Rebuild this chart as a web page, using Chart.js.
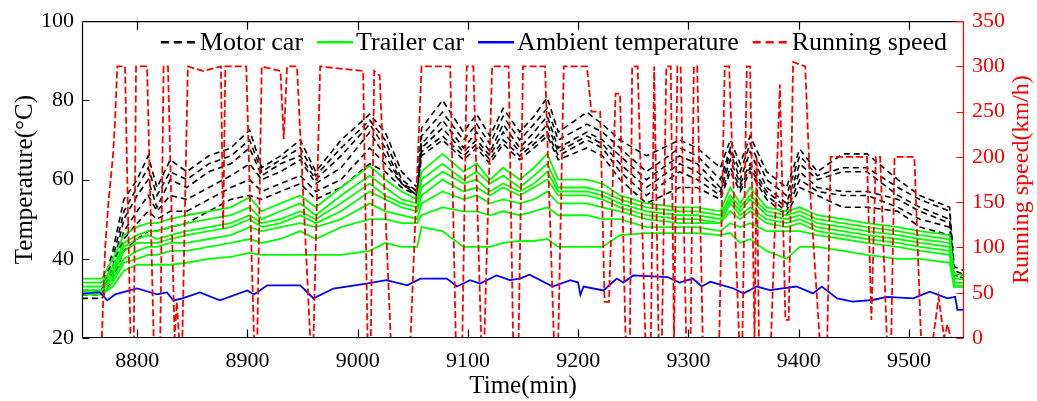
<!DOCTYPE html>
<html>
<head>
<meta charset="utf-8">
<script src="https://cdn.jsdelivr.net/npm/chart.js@4.4.1/dist/chart.umd.min.js"></script>
<style>
  html, body { margin: 0; padding: 0; background: #fff; }
</style>
</head>
<body>
<canvas id="chart" width="1037" height="401"></canvas>
<script>
// time grid shared by the carriage temperature traces (min)
const tempTime = [8750,8768,8778,8788,8800,8810,8818,8830,8845,8865,8885,8902,8913,8930,8948,8962,8985,9011,9025,9040,9054,9058,9077,9096,9108,9120,9132,9147,9160,9172,9182,9208,9222,9238,9262,9292,9308,9329,9338,9347,9356,9371,9389,9401,9417,9440,9462,9490,9510,9537,9541,9550];

// motor car temperatures (oC)
const motor1 = [32,32,42,55,60,66,58,65,62,66, 68,72.5,63,66,70,62,70,76.5,72,62, 58,73,80,72,76.5,71,78,72,76,80.7, 72,77,74,70,66,70,68,63,70,64, 71,62,58,67.7,62,66.5,66.5,60,56,53, 38,37];
const motor2 = [32,32,40,52,58,63,56,62,60,64, 66,70,62,65,68,61,68,75,70,60, 57,71,77,70,74,69,76,70,74,78, 70,74,72,68,62,68,66,60,68,62, 69,60,56,66,61,63,63,58,55,52, 37,36];
const motor3 = [31,31,38,50,56,60,53,60,58,62, 64,68,61,64,66,60,66,74,68,59, 56,69,75,68,72,67,74,68,72,76, 68,72,70,66,60,66,64,58,67,60, 67,58,54,64,60,62,62,56,53,50, 36,36];
const motor4 = [31,31,37,47,52,56,52,56,55,58, 61,64,60,62,65,59,63,72,66,59, 57,68,73,67,70,66,72,67,70,74, 67,71,69,64,58,64,62,57,65,59, 64,57,53,62,58,57,57,55,52,49, 36,35];
const motor5 = [31,31,36,45,49,52,50,52,52,55, 58,60,57,59,61,57,60,68,64,59, 56,67,71,66,69,65,70,66,69,72, 66,70,68,62,56,62,60,56,63,58, 63,56,52,60,57,56,56,53,50,48, 36,35];
const motor6 = [30,30,35,42,45,47,47,48,49,52, 55,56,55,57,59,55,58,64,62,58, 56,66,70,65,68,64,69,65,68,71, 65,68,66,60,54,58,58,55,62,57, 62,55,51,58,56,53,53,52,48,46, 35,35];

// trailer car temperatures (oC)
const trailer1 = [35,35,40,46,48,49,49,50,51,52, 53,55.5,52,54,56,53,58,63.5,60,57, 55,62,66.5,62,64,60,63,60,63,66.5, 60,60,59,56,54,53,53,52,58,54, 58,53,52,53,51,50,49,48,47,46, 36,36];
const trailer2 = [34,34,38,44,46,47,47,48,49,50, 51,53,50,52,54,51,56,61,58,55, 54,60,64,60,62,59,61,58,61,64, 58,58,57,55,53,52,52,51,56,53, 56,52,51,52,50,49,48,47,46,45, 35,35];
const trailer3 = [33,33,37,43,45,46,45,46,47,48, 49,51,49,50,52,50,54,59,56,54, 53,58,62,59,60,57,59,57,59,62, 57,57,56,54,52,51,51,50,55,52, 55,51,50,51,49,48,47,46,45,44, 34,34];
const trailer4 = [32,32,36,42,44,44,44,45,46,47, 48,50,48,49,51,49,52,57,55,53, 52,56,60,57,58,56,58,56,58,60, 56,56,55,53,51,50,50,49,54,51, 53,50,49,50,48,47,46,45,44,43, 34,34];
const trailer5 = [32,32,35,40,42,43,43,44,44,45, 46,48,47,48,49,48,50,54,52,51, 50,54,57,55,56,54,55,54,55,57, 54,54,53,52,50,49,49,49,52,50, 52,49,48,49,47,46,45,44,43,42, 33,33];
const trailer6 = [31,31,34,39,40,41,41,42,42,43, 44,45,44,45,47,45,48,50,50,49, 49,51,53,52,52,51,52,51,52,53, 51,51,50,50,48,48,48,47,49,48, 49,47,47,47,46,45,44,43,42,41, 33,33];
const trailer7 = [31,31,33,37,38.5,38.5,38.5,38.5,39,40, 40.5,41.5,41,41,41,41,41,42,44,43, 43,48,47,43,43,43,44,44.5,44.5,45, 43,43,43,46,46.5,46.5,46.5,46,46.5,44, 45,42,40,43,43,42,41,40,40,39, 33,33];

// ambient temperature (oC)
const ambientTime = [8750,8766,8773,8780,8800,8818,8827,8833,8841,8857,8875,8900,8906,8918,8948,8960,8978,9008,9026,9045,9057,9081,9090,9102,9111,9126,9138,9147,9156,9177,9193,9200,9202,9205,9223,9235,9241,9250,9281,9292,9304,9312,9320,9341,9350,9362,9374,9398,9413,9421,9435,9449,9467,9480,9504,9519,9535,9542,9544,9550];
const ambientTemp = [31.2,31.6,29.5,31,32.5,31,31.5,29.5,30,31.5,29.5,32,31,33.3,33.3,30,32.5,33.75,34.6,33.3,35,35,33,34.6,33.75,35.8,34.6,35,36,33,34.6,34,30.9,33,32,35,34,35.8,35.4,34,35,33,34.2,32.5,31.25,33,32.1,33,31.25,33,30,29.2,29.6,30.4,30,31.7,30,30.4,27.1,27.1];

// running speed (km/h)
const speedTime = [8750,8768,8771,8774,8778,8780,8782,8789,8794,8797,8799,8809,8815,8821,8824,8828,8834,8836,8838,8841,8846,8860,8876,8878,8880,8899,8906,8909,8913,8930,8933,8936,8945,8951,8957,8960,8966,9005,9009,9012,9015,9020,9030,9048,9058,9084,9089,9095,9099,9105,9112,9115,9122,9137,9141,9146,9150,9170,9178,9182,9187,9208,9212,9220,9224,9228,9234,9238,9243,9247,9249,9254,9261,9266,9269,9273,9276,9280,9284,9287,9290,9293,9298,9302,9305,9308,9313,9328,9333,9337,9346,9349,9353,9356,9360,9362,9364,9375,9383,9388,9391,9395,9406,9411,9419,9426,9429,9462,9466,9470,9474,9480,9484,9487,9505,9511,9522,9527,9532,9535,9538,9550];
const speedKmh = [0,0,100,150,200,240,300,300,0,0,300,300,0,0,300,300,0,40,0,0,300,295,300,120,300,300,0,0,300,295,220,300,300,150,0,0,300,295,0,0,295,290,0,0,300,300,0,0,300,300,0,0,300,300,0,0,300,300,0,0,300,300,250,250,40,40,270,270,0,0,300,300,0,0,300,0,0,300,300,0,300,300,0,0,300,300,0,0,300,300,0,0,300,300,0,200,0,0,280,20,20,305,300,150,0,0,200,200,20,200,200,0,0,200,200,0,0,45,0,15,0,0];

const xTicks = [8800,8900,9000,9100,9200,9300,9400,9500];

const serif = "'Liberation Serif', 'Times New Roman', serif";
Chart.defaults.font.family = serif;
Chart.defaults.color = '#000';

function pts(xs, ys) {
  return xs.map((x, i) => ({ x: x, y: ys[i] }));
}

let datasets = [];

[motor1, motor2, motor3, motor4, motor5, motor6].forEach((s, i) => {
  datasets.push({
    label: 'Motor car', data: pts(tempTime, s), inLegend: i === 0,
    borderColor: '#000', borderWidth: 1.6, borderDash: [6, 4],
    yAxisID: 'y', order: 4
  });
});
[trailer1, trailer2, trailer3, trailer4, trailer5, trailer6, trailer7].forEach((s, i) => {
  datasets.push({
    label: 'Trailer car', data: pts(tempTime, s), inLegend: i === 0,
    borderColor: '#00ff00', borderWidth: 1.8,
    yAxisID: 'y', order: 3
  });
});
datasets.push({
  label: 'Ambient temperature', data: pts(ambientTime, ambientTemp), inLegend: true,
  borderColor: '#0000ff', borderWidth: 1.8,
  yAxisID: 'y', order: 2
});
datasets.push({
  label: 'Running speed', data: pts(speedTime, speedKmh), inLegend: true,
  borderColor: '#ff0000', borderWidth: 1.8, borderDash: [7, 3],
  yAxisID: 'y2', order: 1
});

// axis frame with ticks pointing into the plot, plus right title read bottom-up
const framePlugin = {
  id: 'frame',
  afterDatasetsDraw(chart) {
    const ctx = chart.ctx;
    const a = chart.chartArea;
    const xs = chart.scales.x, yl = chart.scales.y, yr = chart.scales.y2;
    const L = a.left + 0.5, R = a.right - 0.5, T = a.top + 0.5, B = a.bottom - 0.5;
    ctx.save();
    ctx.lineWidth = 1.2;
    ctx.strokeStyle = '#000';
    ctx.beginPath();
    ctx.moveTo(L, T); ctx.lineTo(R, T);
    ctx.moveTo(L, T); ctx.lineTo(L, B);
    ctx.moveTo(L, B); ctx.lineTo(R, B);
    xs.ticks.forEach(t => {
      const px = Math.round(xs.getPixelForValue(t.value)) + 0.5;
      ctx.moveTo(px, B); ctx.lineTo(px, B - 8);
      ctx.moveTo(px, T); ctx.lineTo(px, T + 8);
    });
    yl.ticks.forEach(t => {
      const py = Math.round(yl.getPixelForValue(t.value)) + 0.5;
      ctx.moveTo(L, py); ctx.lineTo(L + 7, py);
    });
    ctx.stroke();
    ctx.strokeStyle = '#ff0000';
    ctx.beginPath();
    ctx.moveTo(R, T); ctx.lineTo(R, B);
    yr.ticks.forEach(t => {
      const py = Math.round(yr.getPixelForValue(t.value)) + 0.5;
      ctx.moveTo(R, py); ctx.lineTo(R - 7, py);
    });
    ctx.stroke();

    ctx.translate(yr.right - 15, (a.top + a.bottom) / 2);
    ctx.rotate(-Math.PI / 2);
    ctx.fillStyle = '#ff0000';
    ctx.font = '24px ' + serif;
    ctx.textAlign = 'center';
    ctx.textBaseline = 'middle';
    ctx.fillText('Running speed(km/h)', 0, 0);
    ctx.restore();
  }
};

// one-row legend inside the top of the plot, right aligned
const legendPlugin = {
  id: 'rowLegend',
  afterDatasetsDraw(chart) {
    const ctx = chart.ctx;
    const a = chart.chartArea;
    const items = chart.data.datasets.filter(d => d.inLegend);
    const sample = 36, gap = 3, spacing = 14;
    ctx.save();
    ctx.font = '26px ' + serif;
    ctx.textBaseline = 'middle';
    let total = 0;
    items.forEach((d, i) => {
      total += sample + gap + ctx.measureText(d.label).width + (i ? spacing : 0);
    });
    let x = a.right - 17 - total;
    const y = a.top + 21;
    items.forEach(d => {
      ctx.strokeStyle = d.borderColor;
      ctx.lineWidth = 2.5;
      ctx.setLineDash(d.borderDash ? [8, 5] : []);
      ctx.beginPath();
      ctx.moveTo(x, y); ctx.lineTo(x + sample, y);
      ctx.stroke();
      x += sample + gap;
      ctx.fillStyle = '#000';
      ctx.fillText(d.label, x, y + 1);
      x += ctx.measureText(d.label).width + spacing;
    });
    ctx.restore();
  }
};

const ctx = document.getElementById('chart').getContext('2d');

const myChart = new Chart(ctx, {
  type: 'line',
  data: { datasets: datasets },
  options: {
    responsive: false,
    animation: false,
    devicePixelRatio: 1,
    elements: {
      point: { radius: 0 },
      line: { tension: 0 }
    },
    layout: { padding: { top: 18, left: 0, right: 0, bottom: 0 } },
    plugins: {
      tooltip: { enabled: false },
      legend: { display: false }
    },
    scales: {
      x: {
        type: 'linear',
        position: 'bottom',
        min: 8750,
        max: 9550,
        afterBuildTicks: (scale) => { scale.ticks = xTicks.map(v => ({ value: v })); },
        afterFit: (scale) => { scale.height = 63; },
        grid: { display: false, drawTicks: false },
        border: { display: false },
        ticks: { font: { size: 22 }, color: '#000', padding: 10, maxRotation: 0, callback: (v) => String(v) },
        title: { display: true, text: 'Time(min)', font: { size: 25 }, color: '#000', padding: { top: 0, bottom: 0 } }
      },
      y: {
        type: 'linear',
        position: 'left',
        min: 20,
        max: 100,
        afterFit: (scale) => { scale.width = 82; },
        grid: { display: false, drawTicks: false },
        border: { display: false },
        ticks: { stepSize: 20, font: { size: 22 }, color: '#000', padding: 8 },
        title: { display: true, text: 'Temperature(\u00b0C)', font: { size: 25 }, color: '#000', padding: { top: 10, bottom: 0 } }
      },
      y2: {
        type: 'linear',
        position: 'right',
        min: 0,
        max: 350,
        afterFit: (scale) => { scale.width = 73; },
        grid: { display: false, drawTicks: false },
        border: { display: false },
        ticks: { stepSize: 50, font: { size: 22 }, color: '#ff0000', padding: 8 }
      }
    }
  },
  plugins: [framePlugin, legendPlugin]
});
</script>
</body>
</html>
